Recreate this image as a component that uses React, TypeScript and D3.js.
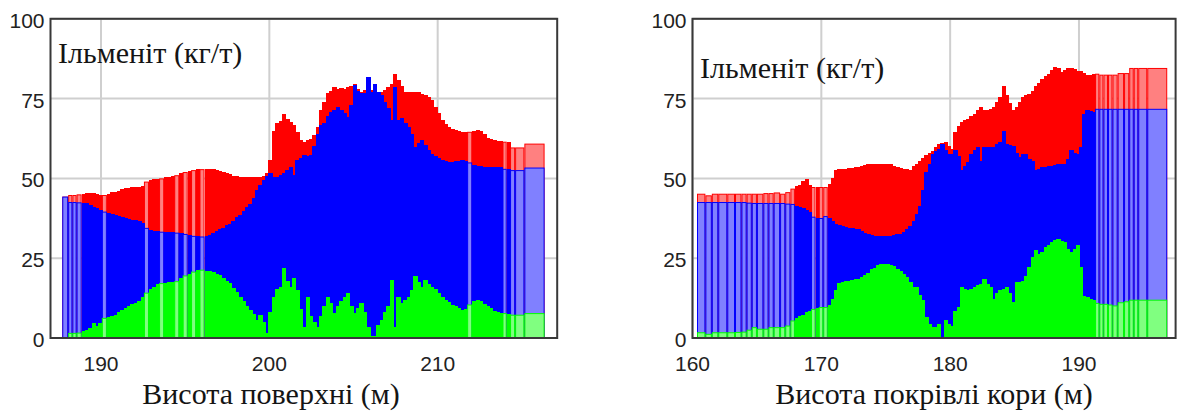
import React from 'react';
import * as d3 from 'd3';

// ---------- data ----------
const yTicks = [0, 25, 50, 75, 100];
const leftXTicks = [190, 200, 210];
const rightXTicks = [160, 170, 180, 190];
const titleText = 'Ільменіт (кг/т)';
const leftXLabel = 'Висота поверхні (м)';
const rightXLabel = 'Висота покрівлі кори (м)';

// left panel: bar edges (m)
const leftEdges = [
  187.7, 188.05, 188.3, 188.55, 188.85, 189.05, 189.25, 189.45, 189.65, 189.85,
  190.05, 190.35, 190.55, 190.75, 190.95, 191.15, 191.35, 191.55, 191.75, 191.95,
  192.15, 192.35, 192.55, 192.85, 193.05, 193.25, 193.45, 193.75, 193.95, 194.15,
  194.35, 194.65, 194.85, 195.15, 195.35, 195.65, 195.85, 196.15, 196.35, 196.55,
  196.75, 196.95, 197.15, 197.35, 197.55, 197.75, 197.95, 198.15, 198.35, 198.55,
  198.75, 198.95, 199.15, 199.35, 199.55, 199.75, 199.95, 200.15, 200.35, 200.55,
  200.75, 200.95, 201.15, 201.35, 201.55, 201.75, 201.95, 202.15, 202.35, 202.55,
  202.75, 202.95, 203.15, 203.35, 203.55, 203.75, 203.95, 204.15, 204.35, 204.55,
  204.75, 204.95, 205.15, 205.35, 205.55, 205.75, 205.95, 206.15, 206.35, 206.55,
  206.75, 206.95, 207.15, 207.35, 207.55, 207.75, 207.95, 208.15, 208.35, 208.55,
  208.75, 208.95, 209.15, 209.35, 209.55, 209.75, 209.95, 210.15, 210.35, 210.55,
  210.75, 210.95, 211.15, 211.35, 211.55, 211.75, 212.05, 212.25, 212.45, 212.65,
  212.85, 213.05, 213.25, 213.45, 213.65, 213.85, 214.1, 214.3, 214.6, 215.15,
  216.35,
];
const leftRed = [
  44.3, 44.8, 44.8, 45.0, 45.1, 45.3, 45.4, 45.3, 45.0, 44.8,
  44.8, 45.2, 45.6, 45.8, 46.2, 46.6, 46.9, 47.1, 47.3, 47.4,
  47.4, 47.5, 49.0, 49.6, 49.8, 49.9, 50.0, 50.3, 50.5, 50.7,
  51.0, 51.6, 52.0, 52.3, 52.6, 52.8, 52.9, 53.0, 52.9, 52.8,
  52.6, 52.4, 52.1, 51.8, 51.4, 50.9, 50.6, 50.4, 50.3, 50.3,
  50.3, 50.3, 50.4, 50.5, 50.8, 51.6, 55.7, 65.0, 67.2, 68.0,
  70.3, 68.5, 67.7, 66.7, 64.5, 62.0, 61.5, 62.0, 62.5, 63.5,
  66.0, 71.4, 74.0, 76.6, 77.5, 78.6, 78.0, 78.3, 78.1, 78.5,
  79.0, 79.7, 78.0, 77.0, 77.6, 77.6, 77.6, 77.1, 77.1, 77.1,
  77.6, 78.5, 79.7, 82.8, 80.7, 79.0, 77.1, 77.1, 77.1, 77.1,
  77.0, 76.5, 76.0, 75.5, 74.5, 72.4, 70.5, 68.2, 67.0, 66.1,
  65.5, 65.1, 64.8, 64.6, 64.6, 64.6, 64.9, 65.1, 64.8, 63.8,
  62.8, 62.5, 62.0, 61.8, 61.8, 61.5, 61.5, 59.7, 59.7, 60.9,
];
const leftBlue = [
  44.3, 42.6, 42.6, 42.5, 42.3, 42.2, 41.8, 41.1, 40.6, 40.0,
  39.6, 39.3, 39.0, 38.6, 38.3, 37.8, 37.5, 37.4, 37.1, 37.0,
  36.6, 35.9, 34.5, 33.9, 33.6, 33.4, 33.3, 33.2, 33.2, 33.1,
  33.0, 32.8, 32.6, 32.3, 32.0, 31.8, 31.8, 32.1, 32.4, 32.9,
  33.5, 34.0, 34.6, 35.3, 35.8, 36.8, 37.8, 38.5, 39.8, 41.0,
  41.9, 43.8, 46.4, 48.0, 49.5, 50.8, 51.6, 50.5, 50.5, 51.0,
  51.6, 52.5, 53.6, 51.0, 55.7, 56.3, 57.3, 57.0, 57.3, 60.0,
  64.0, 66.7, 67.5, 69.5, 70.8, 71.5, 72.4, 71.5, 70.5, 69.3,
  73.0, 79.2, 77.5, 76.6, 76.6, 81.8, 77.1, 79.7, 77.1, 76.0,
  74.0, 72.0, 68.2, 78.6, 68.2, 69.0, 67.5, 66.1, 64.0, 59.9,
  61.0, 61.9, 60.5, 59.0, 57.8, 57.0, 56.4, 55.7, 55.5, 55.2,
  55.2, 55.3, 55.5, 55.7, 55.4, 55.0, 54.3, 54.0, 53.8, 53.6,
  53.6, 53.6, 53.6, 53.6, 53.6, 53.0, 53.0, 52.6, 52.6, 53.4,
];
const leftGreen = [
  0.3, 1.6, 1.6, 1.7, 2.3, 2.6, 3.2, 4.7, 3.8, 4.6,
  6.3, 6.5, 7.0, 7.3, 8.0, 8.9, 9.4, 10.0, 10.6, 11.0,
  11.6, 13.0, 14.2, 15.4, 16.1, 16.8, 17.2, 17.3, 17.5, 17.6,
  17.8, 18.9, 19.6, 20.2, 20.8, 21.4, 21.4, 21.1, 21.0, 20.6,
  19.9, 19.6, 18.9, 17.9, 17.3, 15.8, 14.3, 13.0, 11.5, 10.0,
  8.9, 7.4, 5.7, 7.3, 5.0, 1.6, 8.0, 13.0, 15.5, 16.1,
  21.9, 18.0, 16.1, 18.8, 15.1, 9.0, 3.6, 13.0, 6.8, 5.0,
  3.6, 7.0, 9.9, 13.0, 11.0, 7.8, 9.9, 11.5, 13.0, 14.0,
  10.0, 7.8, 9.5, 10.9, 8.0, 3.6, 0.5, 0.5, 4.0, 5.7,
  8.0, 9.9, 18.2, 3.6, 13.0, 11.0, 12.0, 13.0, 15.0, 19.3,
  17.5, 16.1, 18.2, 17.0, 16.1, 15.5, 14.0, 13.0, 12.0, 11.2,
  10.4, 10.0, 9.5, 8.9, 9.0, 10.5, 11.6, 12.0, 11.5, 10.5,
  9.9, 9.4, 8.5, 8.0, 7.8, 7.8, 7.5, 7.3, 7.3, 7.8,
];

// right panel: bar edges (m)
const rightEdges = [
  160.35, 161.0, 161.5, 162.0, 162.7, 163.3, 163.8, 164.2, 164.6, 165.0,
  165.5, 165.9, 166.3, 166.8, 167.2, 167.6, 167.95, 168.2, 168.45, 168.7,
  168.95, 169.2, 169.55, 169.8, 170.15, 170.5, 170.75, 171.0, 171.25, 171.5,
  171.75, 172.0, 172.25, 172.5, 172.75, 173.0, 173.25, 173.5, 173.75, 174.0,
  174.25, 174.5, 174.75, 175.0, 175.25, 175.5, 175.75, 176.0, 176.25, 176.5,
  176.75, 177.0, 177.25, 177.5, 177.75, 178.0, 178.25, 178.5, 178.75, 179.0,
  179.25, 179.5, 179.75, 180.0, 180.25, 180.5, 180.75, 181.0, 181.25, 181.5,
  181.75, 182.0, 182.25, 182.5, 182.75, 183.0, 183.25, 183.5, 183.75, 184.0,
  184.25, 184.5, 184.75, 185.0, 185.25, 185.5, 185.75, 186.0, 186.25, 186.5,
  186.75, 187.0, 187.25, 187.5, 187.75, 188.0, 188.25, 188.5, 188.75, 189.0,
  189.25, 189.5, 189.75, 190.0, 190.25, 190.5, 190.75, 191.0, 191.25, 191.58,
  191.9, 192.25, 192.6, 193.0, 193.5, 193.9, 194.25, 194.6, 195.3, 196.85,
];
const rightRed = [
  45.2, 44.7, 45.2, 45.2, 45.2, 45.2, 45.2, 45.2, 45.2, 45.2,
  45.4, 45.4, 45.6, 45.2, 45.7, 46.8, 47.5, 48.0, 49.2, 49.9,
  48.0, 47.3, 47.3, 47.3, 47.3, 48.3, 50.0, 52.5, 53.0, 53.1,
  53.1, 53.3, 53.4, 53.5, 53.6, 54.0, 54.3, 54.6, 54.6, 54.6,
  54.6, 54.6, 54.6, 54.6, 54.6, 54.0, 53.6, 53.3, 53.0, 52.8,
  52.5, 54.0, 54.6, 55.6, 56.5, 57.2, 58.0, 58.5, 59.8, 60.9,
  61.2, 61.4, 60.0, 59.3, 64.5, 66.5, 67.7, 68.2, 68.7, 69.5,
  70.3, 71.3, 72.4, 71.5, 71.3, 71.8, 72.4, 74.0, 75.5, 79.1,
  76.0, 73.5, 71.3, 72.4, 74.0, 75.5, 76.0, 76.5, 77.5, 79.1,
  80.0, 81.2, 82.0, 82.8, 84.0, 84.9, 84.5, 83.3, 84.0, 84.6,
  84.6, 84.2, 83.8, 83.8, 83.0, 82.5, 82.5, 82.8, 82.8, 82.5,
  82.5, 82.5, 82.5, 83.0, 83.0, 84.6, 84.6, 84.6, 84.6,
];
const rightBlue = [
  42.6, 42.6, 42.6, 42.6, 42.6, 42.6, 42.6, 42.4, 42.3, 42.3,
  42.3, 42.3, 42.3, 42.3, 42.1, 42.0, 41.5, 41.0, 40.6, 40.0,
  39.5, 38.0, 37.5, 37.6, 38.2, 37.5, 36.8, 35.8, 35.3, 35.0,
  34.7, 34.6, 34.5, 34.3, 34.2, 33.6, 33.0, 32.7, 32.4, 32.0,
  31.8, 31.8, 31.8, 31.8, 31.9, 32.2, 32.5, 32.7, 33.3, 34.0,
  35.0, 36.8, 39.0, 41.5, 46.5, 52.0, 54.6, 57.7, 58.5, 59.3,
  60.9, 59.0, 57.7, 57.7, 58.8, 57.0, 52.5, 54.0, 55.1, 57.5,
  59.0, 59.8, 55.6, 59.8, 59.8, 59.8, 59.8, 60.9, 61.5, 65.0,
  60.9, 60.5, 60.3, 58.0, 56.7, 57.7, 57.5, 56.2, 55.5, 52.5,
  53.0, 53.6, 53.7, 53.8, 54.0, 54.2, 54.6, 54.6, 54.6, 56.0,
  58.8, 58.0, 57.7, 59.8, 70.3, 71.3, 71.0, 70.8, 71.8, 71.8,
  71.8, 71.8, 71.8, 71.8, 71.8, 71.8, 71.8, 71.8, 71.8,
];
const rightGreen = [
  1.8, 1.3, 1.8, 1.8, 1.8, 1.9, 2.0, 2.6, 3.4, 2.9,
  2.9, 3.4, 3.4, 3.4, 3.9, 5.5, 6.2, 7.0, 7.3, 8.0,
  8.6, 9.1, 9.5, 9.7, 9.7, 10.2, 12.3, 14.9, 17.2, 17.6,
  18.0, 18.0, 18.2, 18.4, 18.5, 19.0, 19.8, 20.5, 21.5, 22.0,
  22.8, 23.2, 23.3, 23.2, 23.0, 22.5, 21.7, 21.0, 20.1, 19.0,
  17.5, 16.0, 15.9, 13.5, 11.8, 6.5, 4.4, 3.4, 3.4, 4.4,
  0.0, 5.5, 4.5, 3.9, 8.6, 9.7, 15.9, 15.5, 14.9, 15.4,
  15.9, 16.5, 17.0, 18.5, 17.0, 15.9, 12.3, 14.0, 14.9, 15.5,
  15.9, 14.0, 11.2, 17.5, 17.5, 18.0, 19.5, 22.2, 25.5, 27.5,
  26.4, 27.0, 28.5, 29.0, 30.0, 30.6, 31.1, 30.5, 30.0, 28.0,
  26.9, 28.0, 29.0, 22.2, 13.3, 12.8, 12.3, 11.8, 11.0, 10.7,
  10.7, 10.5, 10.2, 11.2, 11.5, 12.0, 12.0, 12.0, 12.0,
];

// ---------- rendering ----------
const TICK_FONT = 'Liberation Sans Narrow, Liberation Sans, Arial, sans-serif';
const SERIF = 'Liberation Serif, DejaVu Serif, Noto Serif, Times New Roman, serif';

type PanelProps = {
  edges: number[];
  red: number[];
  blue: number[];
  green: number[];
  domain: [number, number];
  range: [number, number];
  xTicks: number[];
  xLabel: string;
  xLabelX: number;
  titleX: number;
  titleY: number;
};

function Bars({ edges, values, x, y, color, light }: any) {
  const y0 = y(0);
  return (
    <g>
      {values.map((v: number, i: number) => {
        const x0 = x(edges[i]);
        const x1 = x(edges[i + 1]);
        const w = x1 - x0;
        const yt = y(v);
        if (w < 4) {
          return (
            <rect key={i} x={x0} y={yt} width={w + 1} height={y0 - yt} fill={color}
              shapeRendering="crispEdges" />
          );
        }
        return (
          <rect key={i} x={x0 + 0.5} y={yt + 0.5} width={w - 1} height={Math.max(0, y0 - yt - 0.5)}
            fill={light} stroke={color} strokeWidth={1} />
        );
      })}
    </g>
  );
}

function Panel(p: PanelProps) {
  const x = d3.scaleLinear().domain(p.domain).range(p.range);
  const y = d3.scaleLinear().domain([0, 100]).range([338, 18.8]);
  const [xl, xr] = p.range;
  return (
    <g>
      {yTicks.map((t) => (
        <line key={'gy' + t} x1={xl} x2={xr} y1={y(t)} y2={y(t)} stroke="#cfcfcf" strokeWidth={2} />
      ))}
      {p.xTicks.map((t) => (
        <line key={'gx' + t} x1={x(t)} x2={x(t)} y1={y(0)} y2={y(100)} stroke="#cfcfcf" strokeWidth={2} />
      ))}
      <Bars edges={p.edges} values={p.red} x={x} y={y} color="#ff0000" light="#ff8080" />
      <Bars edges={p.edges} values={p.blue} x={x} y={y} color="#0000ff" light="#8080ff" />
      <Bars edges={p.edges} values={p.green} x={x} y={y} color="#00ff00" light="#80ff80" />
      <rect x={xl} y={y(100)} width={xr - xl} height={y(0) - y(100)} fill="none" stroke="#383838" strokeWidth={2} />
      {yTicks.map((t) => (
        <text key={'ty' + t} x={xl - 6} y={y(t) + 9} textAnchor="end"
          style={{ fontFamily: TICK_FONT, fontSize: '21px' }} fill="#222">{t}</text>
      ))}
      {p.xTicks.map((t) => (
        <text key={'tx' + t} x={x(t)} y={371} textAnchor="middle"
          style={{ fontFamily: TICK_FONT, fontSize: '21px' }} fill="#222">{t}</text>
      ))}
      <text x={p.titleX} y={p.titleY} style={{ fontFamily: SERIF, fontSize: '30px' }} fill="#141414">{titleText}</text>
      <text x={p.xLabelX} y={404} textAnchor="middle" style={{ fontFamily: SERIF, fontSize: '30px' }} fill="#141414">{p.xLabel}</text>
    </g>
  );
}

export default function App() {
  return (
    <svg width={1184} height={412} style={{ position: 'absolute', left: 0, top: 0, background: '#fff' }}>
      <rect x={0} y={0} width={1184} height={412} fill="#fff" />
      <Panel edges={leftEdges} red={leftRed} blue={leftBlue} green={leftGreen}
        domain={[187, 217.1]} range={[50.5, 557.2]} xTicks={leftXTicks}
        xLabel={leftXLabel} xLabelX={271} titleX={58} titleY={63} />
      <Panel edges={rightEdges} red={rightRed} blue={rightBlue} green={rightGreen}
        domain={[160, 197.5]} range={[692.5, 1175.6]} xTicks={rightXTicks}
        xLabel={rightXLabel} xLabelX={934} titleX={700} titleY={78} />
    </svg>
  );
}
